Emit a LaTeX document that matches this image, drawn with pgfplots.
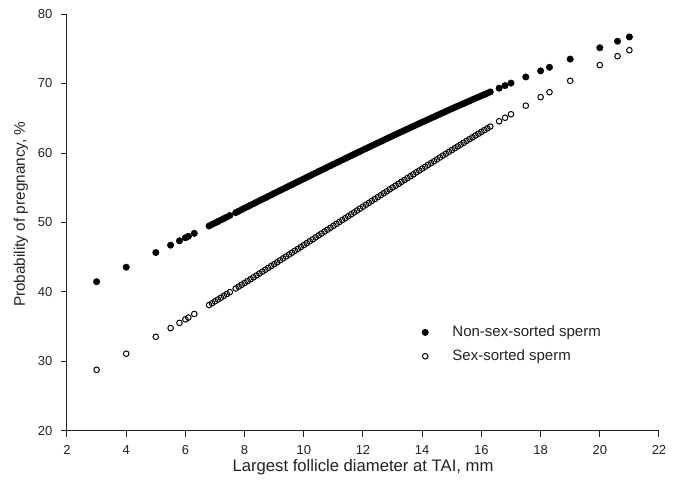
\documentclass[border=0pt]{standalone}
\usepackage{pgfplots}
\pgfplotsset{compat=1.18}
\usepackage{pgfplotstable}
\usepackage{fontspec}
\setmainfont{Liberation Sans}
\definecolor{txt}{HTML}{222222}

\pgfplotstableread{
x a b
3 41.48 28.80
4 43.57 31.12
5 45.68 33.55
5.5 46.74 34.81
5.8 47.37 35.56
6.0 47.80 36.06
6.1 48.01 36.32
6.3 48.44 36.84
6.8 49.50 38.13
6.9 49.72 38.39
7.0 49.93 38.65
7.1 50.14 38.92
7.2 50.36 39.18
7.3 50.57 39.45
7.4 50.78 39.71
7.5 51.00 39.98
7.7 51.42 40.51
7.8 51.63 40.77
7.9 51.85 41.04
8.0 52.06 41.30
8.1 52.27 41.57
8.2 52.49 41.84
8.3 52.70 42.11
8.4 52.91 42.38
8.5 53.13 42.66
8.6 53.34 42.93
8.7 53.55 43.20
8.8 53.76 43.47
8.9 53.98 43.74
9.0 54.19 44.01
9.1 54.40 44.28
9.2 54.61 44.56
9.3 54.82 44.83
9.4 55.03 45.11
9.5 55.24 45.38
9.6 55.45 45.65
9.7 55.66 45.93
9.8 55.87 46.20
9.9 56.08 46.48
10.0 56.29 46.75
10.1 56.50 47.03
10.2 56.71 47.30
10.3 56.92 47.58
10.4 57.13 47.86
10.5 57.34 48.14
10.6 57.54 48.41
10.7 57.75 48.69
10.8 57.96 48.97
10.9 58.17 49.24
11.0 58.38 49.52
11.1 58.59 49.80
11.2 58.79 50.07
11.3 59.00 50.35
11.4 59.20 50.62
11.5 59.41 50.90
11.6 59.62 51.18
11.7 59.82 51.45
11.8 60.03 51.73
11.9 60.23 52.00
12.0 60.44 52.28
12.1 60.64 52.56
12.2 60.84 52.83
12.3 61.05 53.11
12.4 61.25 53.38
12.5 61.45 53.66
12.6 61.65 53.93
12.7 61.85 54.21
12.8 62.06 54.48
12.9 62.26 54.76
13.0 62.46 55.03
13.1 62.66 55.30
13.2 62.86 55.57
13.3 63.05 55.85
13.4 63.25 56.12
13.5 63.45 56.39
13.6 63.65 56.66
13.7 63.85 56.93
13.8 64.04 57.21
13.9 64.24 57.48
14.0 64.44 57.75
14.1 64.63 58.02
14.2 64.83 58.29
14.3 65.02 58.55
14.4 65.21 58.82
14.5 65.41 59.09
14.6 65.60 59.36
14.7 65.79 59.63
14.8 65.98 59.89
14.9 66.18 60.16
15.0 66.37 60.43
15.1 66.56 60.69
15.2 66.74 60.95
15.3 66.93 61.21
15.4 67.12 61.47
15.5 67.31 61.74
15.6 67.49 62.00
15.7 67.68 62.26
15.8 67.87 62.52
15.9 68.05 62.78
16.0 68.24 63.04
16.1 68.42 63.29
16.2 68.60 63.55
16.3 68.79 63.80
16.6 69.33 64.56
16.8 69.70 65.07
17.0 70.06 65.58
17.5 70.94 66.81
18.0 71.82 68.04
18.3 72.33 68.75
19.0 73.51 70.39
20.0 75.14 72.65
20.6 76.08 73.93
21.0 76.70 74.79
}\data

\begin{document}
\begin{tikzpicture}
\useasboundingbox (-50.25pt,-38.25pt) rectangle (456.75pt,323.25pt);
\begin{axis}[
  at={(0,0)}, anchor=south west,
  width=444pt, height=312.75pt, scale only axis,
  xmin=2, xmax=22, ymin=20, ymax=80,
  xtick={2,4,...,22}, ytick={20,30,...,80},
  axis lines*=left,
  axis line style={line width=0.75pt, color=txt},
  tick align=outside, major tick length=4.5pt,
  tick style={line width=0.75pt, color=txt},
  /pgf/number format/assume math mode=true,
  ticklabel style={font=\fontsize{9.75}{11}\selectfont, text=txt},
  xticklabel style={anchor=base, yshift=-13.25pt},
  yticklabel style={anchor=east, xshift=-3pt},
  xlabel={Largest follicle diameter at TAI, mm},
  ylabel={Probability of pregnancy, \%},
  xlabel style={font=\fontsize{12.5}{14}\selectfont, text=txt, at={(axis description cs:0.5,0)}, anchor=base, yshift=-30.75pt},
  ylabel style={font=\fontsize{11.5}{13}\selectfont, text=txt, at={(axis description cs:-0.0777,0.52)}, anchor=center},
  legend style={draw=none, fill=none, font=\fontsize{11.25}{13}\selectfont, text=txt,
    at={(axis cs:13.85,35.92)}, anchor=north west, row sep=4.25pt,
    /tikz/every odd column/.append style={column sep=16pt}},
  legend cell align=left,
  clip=false,
]
\addplot[only marks, mark=*, mark size=2.4pt, mark options={fill=black, draw=black, line width=0.4pt}] table[x=x, y=a] {\data};
\addlegendentry{Non-sex-sorted sperm}
\addplot[only marks, mark=o, mark size=2.1pt, mark options={draw=black, fill=white, line width=0.75pt}] table[x=x, y=b] {\data};
\addlegendentry{Sex-sorted sperm}
\end{axis}
\end{tikzpicture}
\end{document}
